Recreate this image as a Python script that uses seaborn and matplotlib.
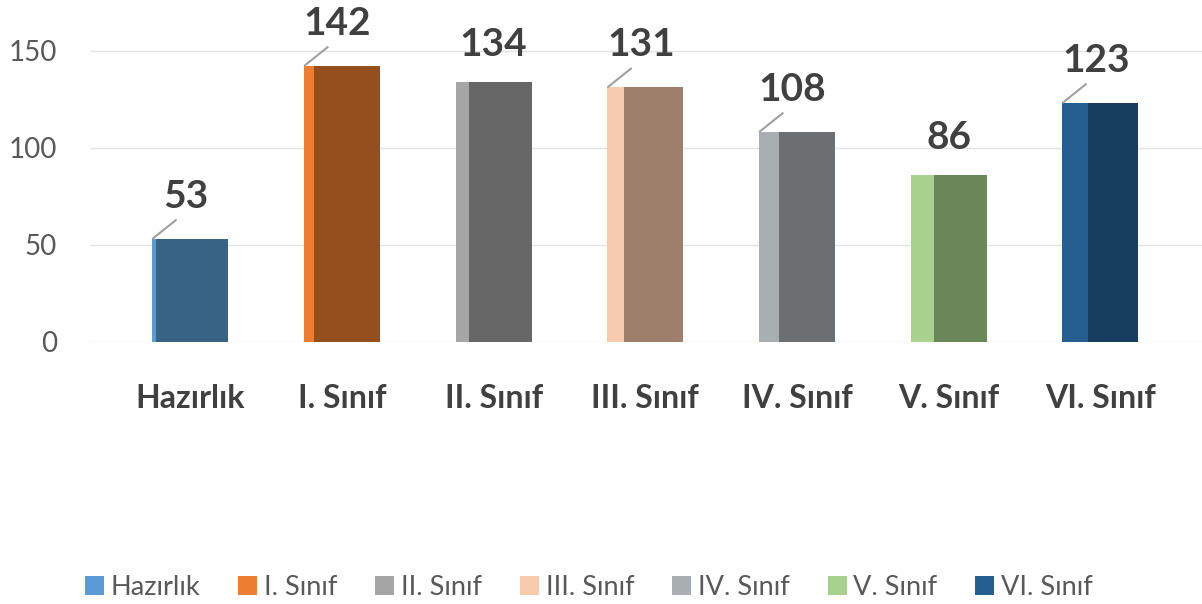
import matplotlib
matplotlib.use("Agg")
import matplotlib.pyplot as plt
import seaborn as sns
import pandas as pd
from matplotlib.patches import Patch

categories = ["Hazırlık", "I. Sınıf", "II. Sınıf", "III. Sınıf", "IV. Sınıf", "V. Sınıf", "VI. Sınıf"]
values = [53, 142, 134, 131, 108, 86, 123]
yticks = [0, 50, 100, 150]

side_colors = ["#5B9BD5", "#ED7D31", "#A5A5A5", "#F8CBAD", "#A9AFB0", "#A9D18E", "#255E91"]
front_colors = ["#386385", "#954F1E", "#676767", "#9E7F6B", "#6B6F72", "#6A8759", "#173D5F"]
side_frac = [0.05, 0.13, 0.17, 0.22, 0.26, 0.30, 0.34]
leader = [True, True, False, True, True, False, True]

sns.set_theme(style="white")
plt.rcParams["font.family"] = ["Lato", "DejaVu Sans"]

fig = plt.figure(figsize=(12.02, 6.04), dpi=100)
ax = fig.add_axes([0.075, 0.434, 0.925, 0.566])

df = pd.DataFrame({"cat": categories, "val": values})
bw = 0.5
sns.barplot(data=df, x="cat", y="val", hue="cat", palette=side_colors,
            width=bw, dodge=False, legend=False, ax=ax, saturation=1, linewidth=0)

# front faces
for i, (v, f) in enumerate(zip(values, side_frac)):
    left = i - bw / 2 + bw * f
    ax.bar(left, v, width=bw * (1 - f), align="edge", color=front_colors[i], linewidth=0, zorder=3)

ax.set_xlim(-0.66, 6.67)
ax.set_ylim(0, 176)
ax.set_yticks(yticks)
ax.set_yticklabels([str(t) for t in yticks], fontsize=20, color="#595959")
ax.tick_params(axis="y", length=0, pad=24)
ax.tick_params(axis="x", length=0, pad=30)
ax.set_xticks(range(len(categories)))
ax.set_xticklabels(categories, fontsize=23, fontweight="bold", color="#404040")
ax.set_xlabel("")
ax.set_ylabel("")
ax.grid(axis="y", color="#E3E3E3", linewidth=1)
ax.set_axisbelow(True)
for s in ax.spines.values():
    s.set_visible(False)

for i, v in enumerate(values):
    x0 = i - bw / 2
    if leader[i]:
        d = 13
        ax.text(i - 0.03, v + d, str(v), fontsize=28, fontweight="bold", color="#404040",
                ha="center", va="bottom", clip_on=False)
        ax.plot([x0, x0 + 0.16], [v, v + d - 3], color="#A0A0A0", lw=1.5,
                zorder=4, clip_on=False, solid_capstyle="butt")
    else:
        ax.text(i, v + 10, str(v), fontsize=28, fontweight="bold", color="#404040",
                ha="center", va="bottom", clip_on=False)

handles = [Patch(facecolor=c, edgecolor="none") for c in side_colors]
fig.legend(handles, categories, loc="center", bbox_to_anchor=(0.49, 0.028), ncol=7,
           frameon=False, fontsize=19.5, labelcolor="#595959",
           handlelength=0.7, handleheight=0.7, handletextpad=0.25, columnspacing=1.4)

fig.savefig("out.png", dpi=100)
